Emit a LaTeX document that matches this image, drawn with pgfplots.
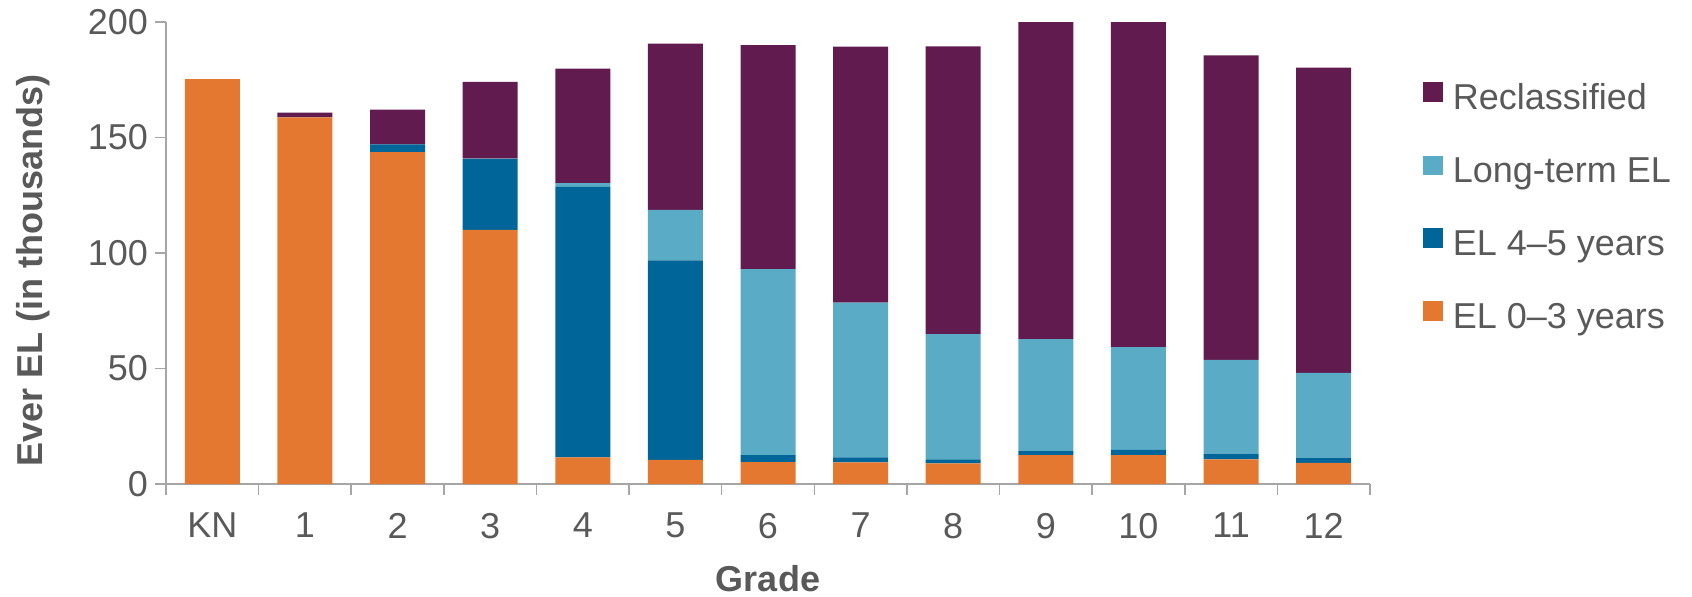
\documentclass[border=0pt]{standalone}
\usepackage{pgfplots}
\pgfplotsset{compat=1.18}
\usepackage{pgfplotstable}
\usepackage{fontspec}
\setmainfont{Liberation Sans}
\definecolor{elA}{HTML}{E57830}
\definecolor{elB}{HTML}{006699}
\definecolor{elC}{HTML}{5AACC6}
\definecolor{elD}{HTML}{621B4E}
\definecolor{txt}{HTML}{595959}
\definecolor{axc}{HTML}{A6A6A6}
\pgfplotstableread{
x orange blue lt purple
0 175.3 0 0 0
1 158.7 0 0 2.1
2 143.7 3.3 0 15.1
3 110.0 30.6 0.3 33.2
4 11.5 117.1 1.6 49.6
5 10.5 86.3 21.9 71.9
6 9.5 3.0 80.5 97.0
7 9.4 2.1 67.0 110.8
8 8.9 1.8 54.2 124.6
9 12.5 2.0 48.2 137.3
10 12.5 2.3 44.5 140.7
11 10.7 2.5 40.5 131.8
12 9.1 2.3 36.7 132.1
}\datatable
\begin{document}
\begin{tikzpicture}
\path[use as bounding box] (-83pt,-56pt) rectangle (763pt,242pt);
\begin{axis}[
  at={(0,0)}, anchor=south west,
  scale only axis, width=602pt, height=231pt,
  ybar stacked, bar width=27.5pt,
  xmin=-0.5, xmax=12.5, ymin=0, ymax=200,
  xtick={0,...,12},
  xticklabels={KN,1,2,3,4,5,6,7,8,9,10,11,12},
  minor xtick={-0.5,0.5,...,12.5},
  major x tick style={draw=none},
  ytick={0,50,100,150,200},
  tick align=outside,
  major tick length=5.5pt, minor tick length=5.5pt,
  tick style={axc, line width=0.8pt},
  axis x line*=bottom, axis y line*=left,
  axis line style={axc, line width=0.8pt},
  /pgf/number format/assume math mode=true,
  ticklabel style={font=\fontsize{18}{21}\selectfont, text=txt},
  xticklabel style={yshift=-5.5pt},
  every axis y label/.style={at={(axis description cs:-0.11,0.463)}, rotate=90, anchor=center},
  every axis x label/.style={at={(axis description cs:0.5,-0.205)}, anchor=center},
  ylabel={\fontsize{18}{21}\selectfont\bfseries Ever EL (in thousands)},
  xlabel={\fontsize{18}{21}\selectfont\bfseries Grade},
  label style={text=txt},
  reverse legend,
  legend style={draw=none, fill=none, at={(rel axis cs:1.039,0.885)}, anchor=north west,
    font=\fontsize{18}{21}\selectfont, text=txt, row sep=18.5pt,
    cells={anchor=west},
    /tikz/every odd column/.append style={column sep=3pt}},
  legend image code/.code={\fill[#1] (0pt,-1.8pt) rectangle (9.7pt,7.9pt);},
  clip=false,
]
\addplot[fill=elA, draw=none] table[x=x, y=orange] {\datatable};
\addplot[fill=elB, draw=none] table[x=x, y=blue] {\datatable};
\addplot[fill=elC, draw=none] table[x=x, y=lt] {\datatable};
\addplot[fill=elD, draw=none] table[x=x, y=purple] {\datatable};
\legend{EL 0–3 years, EL 4–5 years, Long-term EL, Reclassified}
\end{axis}
\end{tikzpicture}
\end{document}
